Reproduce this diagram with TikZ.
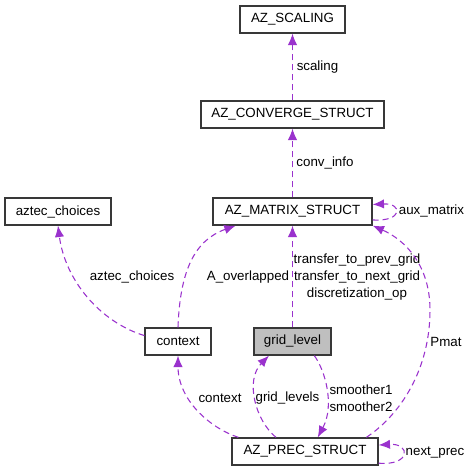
\documentclass[tikz,border=0pt]{standalone}
\usepackage{fontspec}
\setsansfont{Liberation Sans}
\usetikzlibrary{arrows.meta}
\definecolor{edgepurple}{HTML}{9A32CD}
\definecolor{focusgray}{HTML}{BFBFBF}

\newcommand{\classnode}[6][white]{
	\node[classbox, fill=#1, minimum width=#5*0.75pt] (#2) at (#3, #4) {#6};
}

\begin{document}
\begin{tikzpicture}[x=0.75pt,y=-0.75pt,font=\sffamily,
		classbox/.style={draw=black!78, line width=1pt, minimum height=20.25pt, inner sep=0pt},
		member/.style={draw=edgepurple, line width=0.8pt, dash pattern=on 4.5pt off 3pt, -{Latex[length=8.5pt,width=7pt]}},
		memberlabel/.style={inner sep=0pt, align=center, font=\sffamily\fontsize{10}{13}\selectfont}]
	\useasboundingbox (0,0) rectangle (471,475);
	\classnode{scal}{292.5}{19.5}{105}{AZ\_SCALING}
	\classnode{conv}{292.5}{114.5}{183}{AZ\_CONVERGE\_STRUCT}
	\classnode{mat}{292.5}{211.5}{159}{AZ\_MATRIX\_STRUCT}
	\classnode{azc}{58}{211.5}{106}{aztec\_choices}
	\classnode{ctx}{178}{341.5}{66}{context}
	\classnode[focusgray]{gl}{292.5}{341.5}{77}{grid\_level}
	\classnode{prec}{305}{451.5}{146}{AZ\_PREC\_STRUCT}

	\draw[member] (conv) -- (scal);
	\node[memberlabel] (lscal) at (317.5, 67) {scaling};
	\draw[member] (mat) -- (conv);
	\node[memberlabel] (lconv) at (325, 163) {conv\_info};
	\draw[member] (mat.-6) .. controls (403, 222) and (403, 203) .. (mat.5);
	\node[memberlabel] (laux) at (431.5, 211) {aux\_matrix};
	\draw[member] (ctx.170) .. controls (100, 322) and (65, 280) .. (azc.south);
	\node[memberlabel] (lazc) at (132, 277) {aztec\_choices};
	\draw[member] (ctx.north) .. controls (180, 270) and (195, 240) .. (mat.194);
	\node[memberlabel] (lover) at (248, 277) {A\_overlapped};
	\draw[member] (gl) -- (mat);
	\node[memberlabel] (ltrans) at (357, 277) {transfer\_to\_prev\_grid\\transfer\_to\_next\_grid\\discretization\_op};
	\draw[member] (prec.13) .. controls (400, 415) and (430, 370) .. (430, 310) .. controls (430, 265) and (405, 240) .. (mat.-10);
	\node[memberlabel] (lpmat) at (446, 342) {Pmat};
	\draw[member] (prec.168) .. controls (210, 428) and (178, 400) .. (ctx.south);
	\node[memberlabel] (lctx) at (220, 398) {context};
	\draw[member] (prec.154) .. controls (255, 420) and (245, 380) .. (gl.211);
	\node[memberlabel] (lgl) at (287.5, 398) {grid\_levels};
	\draw[member] (gl.-33) .. controls (325, 370) and (335, 405) .. (prec.48);
	\node[memberlabel] (lsmooth) at (361, 398) {smoother1\\smoother2};
	\draw[member] (prec.-9) .. controls (411, 466) and (411, 443) .. (prec.5);
	\node[memberlabel] (lnext) at (435, 453) {next\_prec};
\end{tikzpicture}
\end{document}
